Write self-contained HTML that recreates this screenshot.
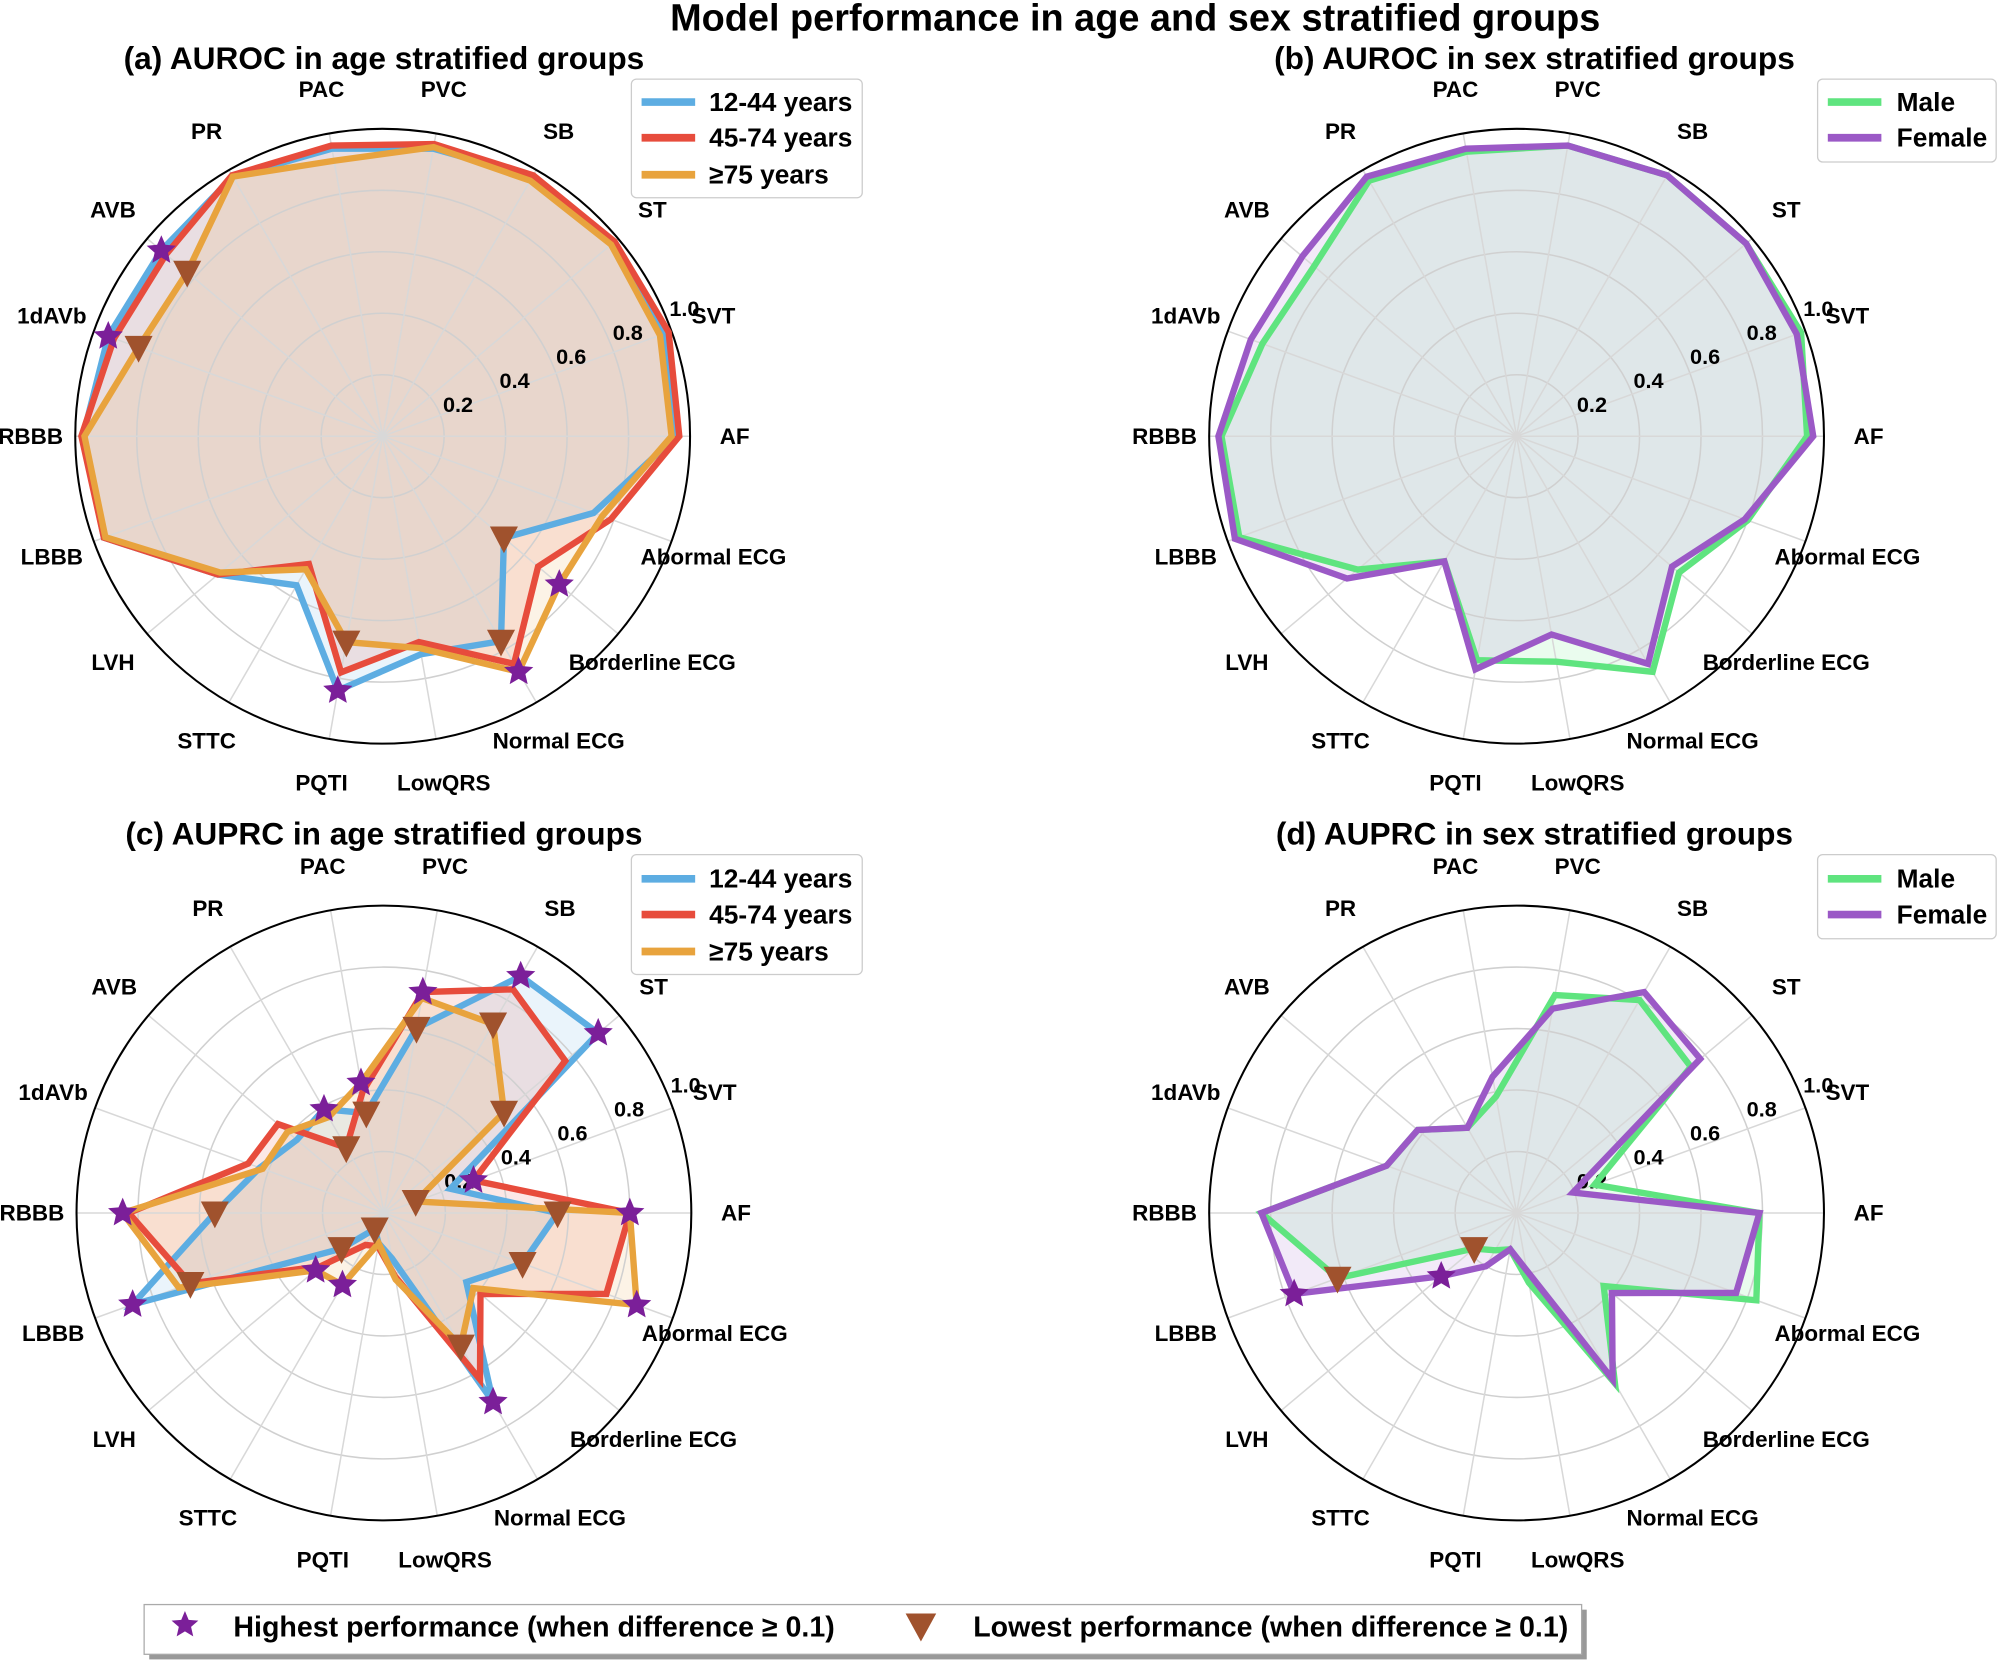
<!DOCTYPE html>
<html><head><meta charset="utf-8"><style>
html,body{margin:0;padding:0;background:#fff}
svg{display:block}
text{font-family:"Liberation Sans",Arial,sans-serif;font-weight:bold;fill:#000}
</style></head><body>
<svg id="s" width="2000" height="1664" viewBox="0 0 1568 1304.6" preserveAspectRatio="none" xmlns="http://www.w3.org/2000/svg">
<rect width="1568" height="1305" fill="#fff"/>
<text x="890" y="24" font-size="29.7" text-anchor="middle">Model performance in age and sex stratified groups</text>
<text x="301" y="54" font-size="24.8" text-anchor="middle">(a) AUROC in age stratified groups</text>
<text x="1203" y="54" font-size="24.8" text-anchor="middle">(b) AUROC in sex stratified groups</text>
<text x="301" y="662" font-size="24.8" text-anchor="middle">(c) AUPRC in age stratified groups</text>
<text x="1203" y="662" font-size="24.8" text-anchor="middle">(d) AUPRC in sex stratified groups</text>
<g id="plots"></g>
<g>
<rect x="495" y="62" width="181" height="93" rx="4" fill="#fff" fill-opacity="0.85" stroke="#ccc"/>
<line x1="503" y1="80" x2="545" y2="80" stroke="#5DADE2" stroke-width="6"/><text x="556" y="87" font-size="20.6">12-44 years</text>
<line x1="503" y1="108" x2="545" y2="108" stroke="#E74C3C" stroke-width="6"/><text x="556" y="115" font-size="20.6">45-74 years</text>
<line x1="503" y1="137" x2="545" y2="137" stroke="#E8A33D" stroke-width="6"/><text x="556" y="144" font-size="20.6">≥75 years</text>
</g>
<g>
<rect x="1425" y="62" width="140" height="65" rx="4" fill="#fff" fill-opacity="0.85" stroke="#ccc"/>
<line x1="1433" y1="80" x2="1475" y2="80" stroke="#5FE47F" stroke-width="6"/><text x="1487" y="87" font-size="20.6">Male</text>
<line x1="1433" y1="108" x2="1475" y2="108" stroke="#9B59C6" stroke-width="6"/><text x="1487" y="115" font-size="20.6">Female</text>
</g>
<g>
<rect x="495" y="670" width="181" height="94" rx="4" fill="#fff" fill-opacity="0.85" stroke="#ccc"/>
<line x1="503" y1="689" x2="545" y2="689" stroke="#5DADE2" stroke-width="6"/><text x="556" y="696" font-size="20.6">12-44 years</text>
<line x1="503" y1="717" x2="545" y2="717" stroke="#E74C3C" stroke-width="6"/><text x="556" y="724" font-size="20.6">45-74 years</text>
<line x1="503" y1="746" x2="545" y2="746" stroke="#E8A33D" stroke-width="6"/><text x="556" y="753" font-size="20.6">≥75 years</text>
</g>
<g>
<rect x="1425" y="670" width="140" height="66" rx="4" fill="#fff" fill-opacity="0.85" stroke="#ccc"/>
<line x1="1433" y1="689" x2="1475" y2="689" stroke="#5FE47F" stroke-width="6"/><text x="1487" y="696" font-size="20.6">Male</text>
<line x1="1433" y1="717" x2="1475" y2="717" stroke="#9B59C6" stroke-width="6"/><text x="1487" y="724" font-size="20.6">Female</text>
</g>
<g>
<rect x="117" y="1262" width="1127" height="39" fill="#999"/>
<rect x="113" y="1258" width="1127" height="39" fill="#fff" stroke="#aaa"/>
<polygon id="lgstar" fill="#7B1F99"/>
<text x="183" y="1283" font-size="22.4">Highest performance (when difference ≥ 0.1)</text>
<polygon points="710,1265 734,1265 722,1287" fill="#A0522D"/>
<text x="763" y="1283" font-size="22.4">Lowest performance (when difference ≥ 0.1)</text>
</g>
</svg>
<script>
var NS="http://www.w3.org/2000/svg";
var cats=["AF","SVT","ST","SB","PVC","PAC","PR","AVB","1dAVb","RBBB","LBBB","LVH","STTC","PQTI","LowQRS","Normal ECG","Borderline ECG","Abormal ECG"];
var R=241;
function el(t,a,p){var e=document.createElementNS(NS,t);for(var k in a)e.setAttribute(k,a[k]);(p||document.getElementById("plots")).appendChild(e);return e;}
function pt(cx,cy,i,v){var t=i*20*Math.PI/180;return [cx+R*v*Math.cos(t),cy-R*v*Math.sin(t)];}
function star(x,y,ro,ri){var p=[];for(var k=0;k<10;k++){var r=k%2?ri:ro;var a=-Math.PI/2+k*Math.PI/5;p.push((x+r*Math.cos(a)).toFixed(1)+","+(y+r*Math.sin(a)).toFixed(1));}return p.join(" ");}
document.getElementById("lgstar").setAttribute("points",star(145,1274,11,5));
function panel(cx,cy,series,marks){
  var g=el("g",{});
  series.forEach(function(s){var p=s.v.map(function(v,i){return pt(cx,cy,i,v).join(",");}).join(" ");
    el("polygon",{points:p,fill:s.c,"fill-opacity":0.13,stroke:"none"},g);});
  [0.2,0.4,0.6,0.8].forEach(function(r){el("circle",{cx:cx,cy:cy,r:R*r,fill:"none",stroke:"#d0d0d0","stroke-width":1.2},g);});
  for(var i=0;i<18;i++){var q=pt(cx,cy,i,1);el("line",{x1:cx,y1:cy,x2:q[0],y2:q[1],stroke:"#d8d8d8","stroke-width":1.2},g);}
  el("circle",{cx:cx,cy:cy,r:R,fill:"none",stroke:"#000","stroke-width":1.6},g);
  [0.2,0.4,0.6,0.8,1.0].forEach(function(r){var d=R*r+16,a=23*Math.PI/180;var t=el("text",{x:cx+d*Math.cos(a),y:cy-d*Math.sin(a)+6,"font-size":17,"text-anchor":"middle"},g);t.textContent=r.toFixed(1);});
  for(var i=0;i<18;i++){var a=i*20*Math.PI/180,d=276;var t=el("text",{x:cx+d*Math.cos(a),y:cy-d*Math.sin(a)+6,"font-size":17.6,"text-anchor":"middle"},g);t.textContent=cats[i];}
  series.forEach(function(s){var p=s.v.map(function(v,i){return pt(cx,cy,i,v).join(",");}).join(" ");
    el("polygon",{points:p,fill:"none",stroke:s.c,"stroke-width":5,"stroke-linejoin":"miter"},g);});
  if(marks){for(var i=0;i<18;i++){var vs=series.map(function(s){return s.v[i];});var mx=Math.max.apply(null,vs),mn=Math.min.apply(null,vs);
    if(mx-mn>=0.1-1e-9){var a=pt(cx,cy,i,mx);el("polygon",{points:star(a[0],a[1],12,5.5),fill:"#7B1F99"},g);
      var b=pt(cx,cy,i,mn);el("polygon",{points:(b[0]-11)+","+(b[1]-9)+" "+(b[0]+11)+","+(b[1]-9)+" "+b[0]+","+(b[1]+12),fill:"#A0522D"},g);}}}
}
var B="#5DADE2",Rd="#E74C3C",O="#E8A33D",G="#5FE47F",P="#9B59C6";
panel(300,342,[
 {c:B,v:[0.955,0.98,0.98,0.975,0.95,0.95,0.975,0.94,0.95,0.975,0.965,0.70,0.56,0.84,0.72,0.77,0.515,0.73]},
 {c:Rd,v:[0.965,0.99,0.985,0.98,0.965,0.96,0.98,0.92,0.93,0.98,0.965,0.70,0.48,0.78,0.68,0.855,0.66,0.79]},
 {c:O,v:[0.94,0.96,0.97,0.96,0.955,0.91,0.975,0.83,0.845,0.97,0.96,0.69,0.50,0.68,0.70,0.885,0.75,0.76]}
],true);
panel(1189,342,[
 {c:G,v:[0.945,0.985,0.975,0.98,0.96,0.94,0.96,0.86,0.88,0.96,0.96,0.675,0.47,0.74,0.745,0.885,0.69,0.80]},
 {c:P,v:[0.965,0.97,0.975,0.98,0.96,0.95,0.975,0.91,0.92,0.97,0.975,0.72,0.47,0.77,0.655,0.855,0.66,0.79]}
],false);
panel(301,951,[
 {c:B,v:[0.565,0.23,0.91,0.89,0.61,0.33,0.39,0.37,0.43,0.55,0.87,0.18,0.06,0.10,0.15,0.71,0.35,0.48]},
 {c:Rd,v:[0.80,0.31,0.77,0.84,0.73,0.40,0.245,0.45,0.47,0.83,0.67,0.27,0.12,0.11,0.21,0.625,0.41,0.77]},
 {c:O,v:[0.80,0.11,0.51,0.71,0.71,0.43,0.36,0.41,0.42,0.85,0.71,0.29,0.27,0.10,0.22,0.50,0.38,0.875]}
],true);
panel(1189,951,[
 {c:G,v:[0.79,0.27,0.74,0.80,0.72,0.385,0.32,0.42,0.45,0.83,0.62,0.18,0.14,0.12,0.23,0.64,0.37,0.83]},
 {c:P,v:[0.79,0.195,0.78,0.83,0.675,0.45,0.32,0.42,0.45,0.83,0.77,0.32,0.20,0.12,0.19,0.625,0.405,0.76]}
],true);
</script>
</body></html>
